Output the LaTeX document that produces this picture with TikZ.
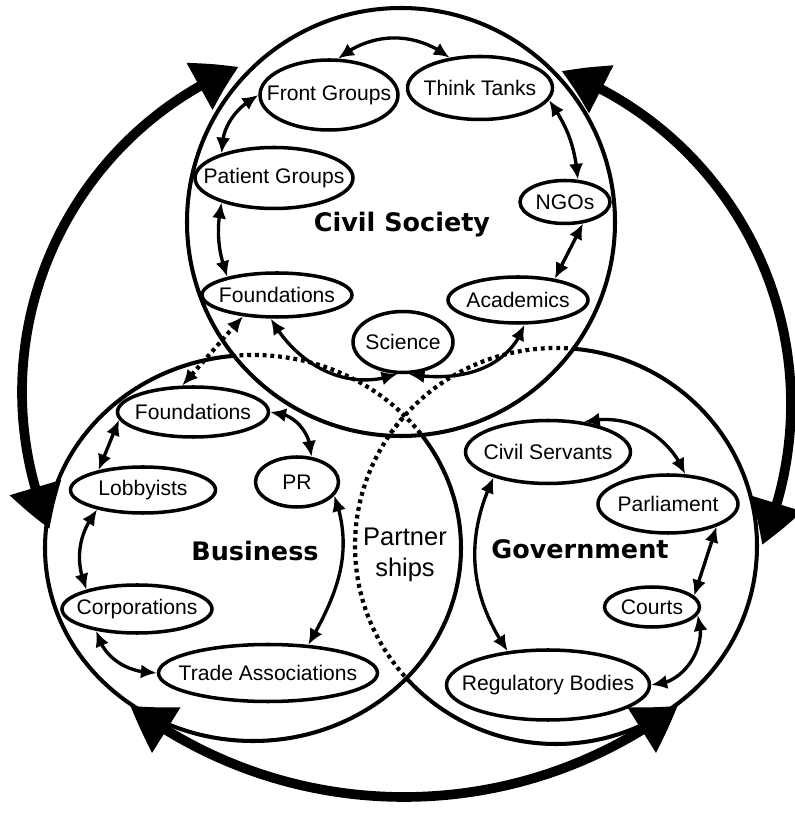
\documentclass[tikz,border=0pt]{standalone}
\usepackage{fontspec}
\setmainfont{Liberation Sans}
\newfontfamily\headfont{DejaVu Sans}
\usetikzlibrary{arrows.meta,bending,shapes.geometric}

\tikzset{
  org/.style={ellipse, draw, fill=white, line width=2pt, inner sep=0pt,
    font=\fontsize{12}{14}\selectfont,
    execute at begin node={\hbox to 0pt\bgroup\hss},
    execute at end node={\hss\egroup}},
  sector/.style={font=\headfont\bfseries\fontsize{14.5}{17}\selectfont},
  ring/.style={line width=2.3pt},
  dotline/.style={line width=2.4pt, dash pattern=on 2.2pt off 2.2pt},
  link/.style={line width=1.9pt, <->},
  bigarc/.style={line width=5.5pt,
    {Triangle[length=25pt,width=29pt,bend]}-{Triangle[length=25pt,width=29pt,bend]}},
}

\begin{document}
\begin{tikzpicture}[>={Latex[length=9pt,width=8pt]}]
  \useasboundingbox (0,0) rectangle (15.9,16.36);
  % Sirkler
  \coordinate (civ) at (8.02,11.92);
  \coordinate (bus) at (5.06,5.40);
  \coordinate (gov) at (11.12,5.44);
  \draw[ring] (civ) circle[radius=4.28];
  \begin{scope}
    \clip (0,0) -- (0,16.36) -- (15.9,16.36) -- (15.9,0) -- cycle (civ) circle[radius=4.28];
    \draw[ring] (bus) ellipse[x radius=4.16,y radius=3.86];
    \clip (0,0) -- (0,16.36) -- (15.9,16.36) -- (15.9,0) -- cycle (bus) ellipse[x radius=4.16,y radius=3.86];
    \draw[ring] (gov) ellipse[x radius=4.02,y radius=3.96];
  \end{scope}
  % Prikket inne i andre sirkler
  \begin{scope}
    \clip (civ) circle[radius=4.28];
    \draw[dotline] (bus) ellipse[x radius=4.16,y radius=3.86];
    \draw[dotline] (gov) ellipse[x radius=4.02,y radius=3.96];
  \end{scope}
  \begin{scope}
    \clip (bus) ellipse[x radius=4.16,y radius=3.86];
    \draw[dotline] (gov) ellipse[x radius=4.02,y radius=3.96];
  \end{scope}

  % Sivilsamfunn
  \node[org,minimum width=2.76cm,minimum height=1.40cm] (fg) at (6.58,14.46) {Front Groups};
  \node[org,minimum width=2.90cm,minimum height=1.26cm] (tt) at (9.60,14.60) {Think Tanks};
  \node[org,minimum width=3.16cm,minimum height=1.22cm] (pg) at (5.48,12.80) {Patient Groups};
  \node[org,minimum width=1.80cm,minimum height=0.86cm] (ngo) at (11.30,12.32) {NGOs};
  \node[org,minimum width=3.00cm,minimum height=0.88cm] (fcs) at (5.54,10.46) {Foundations};
  \node[org,minimum width=2.80cm,minimum height=0.92cm] (ac) at (10.36,10.36) {Academics};
  \node[org,minimum width=2.00cm,minimum height=1.22cm] (sci) at (8.06,9.52) {Science};
  % Naeringsliv
  \node[org,minimum width=3.02cm,minimum height=1.00cm] (fb) at (3.86,8.12) {Foundations};
  \node[org,minimum width=2.90cm,minimum height=0.92cm] (lob) at (2.86,6.56) {Lobbyists};
  \node[org,minimum width=1.66cm,minimum height=1.00cm] (pr) at (5.94,6.72) {PR};
  \node[org,minimum width=3.00cm,minimum height=0.96cm] (corp) at (2.74,4.18) {Corporations};
  \node[org,minimum width=4.38cm,minimum height=1.14cm] (ta) at (5.36,2.90) {Trade Associations};
  % Stat
  \node[org,minimum width=3.30cm,minimum height=1.26cm] (cserv) at (10.96,7.32) {Civil Servants};
  \node[org,minimum width=2.80cm,minimum height=1.16cm] (parl) at (13.36,6.28) {Parliament};
  \node[org,minimum width=1.90cm,minimum height=0.80cm] (ct) at (13.04,4.22) {Courts};
  \node[org,minimum width=4.06cm,minimum height=1.40cm] (rb) at (10.96,2.66) {Regulatory Bodies};
  % Titler
  \node[sector] (civlab) at (8.04,11.86) {Civil Society};
  \node[sector] (buslab) at (5.10,5.34) {Business};
  \node[sector] (govlab) at (11.60,5.38) {Government};
  \node[font=\fontsize{14.5}{18}\selectfont,align=center] (pship) at (8.10,5.26) {Partner\\ships};

  % Piler
  \draw[link] (fg.76) to[bend left=38] (tt.135);
  \draw[link] (fg.west) to[out=210,in=90] (pg.155);
  \draw[link] (pg.205) to[bend right=15] (fcs.160);
  \draw[link] (tt.-10) to[bend left=15] (ngo.60);
  \draw[link] (ngo.-50) -- (ac.30);
  \draw[link] (fcs.-105) to[out=-60,in=200] (sci.-100);
  \draw[link] (sci.-80) to[out=-10,in=250] (ac.-75);
  \draw[link,dotline] (fb.112) -- (fcs.-148);
  \draw[link] (fb.186) -- (lob.156);
  \draw[link] (lob.203) to[bend right=30] (corp.159);
  \draw[link] (corp.208) to[out=-75,in=180] (ta.west);
  \draw[link] (ta.35) to[out=60,in=-70] (pr.-20);
  \draw[link] (fb.east) to[out=0,in=90] (pr.60);
  \draw[link] (cserv.40) to[bend left=40] (parl.60);
  \draw[link] (cserv.205) to[bend right=30] (rb.140);
  \draw[link] (parl.-25) -- (ct.15);
  \draw[link] (ct.-10) to[out=-70,in=0] (rb.east);

  % Store piler
  \coordinate (leftc) at (7.48,8.52);
  \coordinate (rightc) at (8.70,8.28);
  \coordinate (lowc) at (8.08,9.54);
  \draw[bigarc] ([shift={(112.6:7.04)}]leftc) arc[start angle=112.6,end angle=202.9,radius=7.04];
  \draw[bigarc] ([shift={(69.2:7.12)}]rightc) arc[start angle=69.2,end angle=-23.3,radius=7.12];
  \draw[bigarc] ([shift={(233.1:9.12)}]lowc) arc[start angle=233.1,end angle=306.9,radius=9.12];
\end{tikzpicture}
\end{document}
